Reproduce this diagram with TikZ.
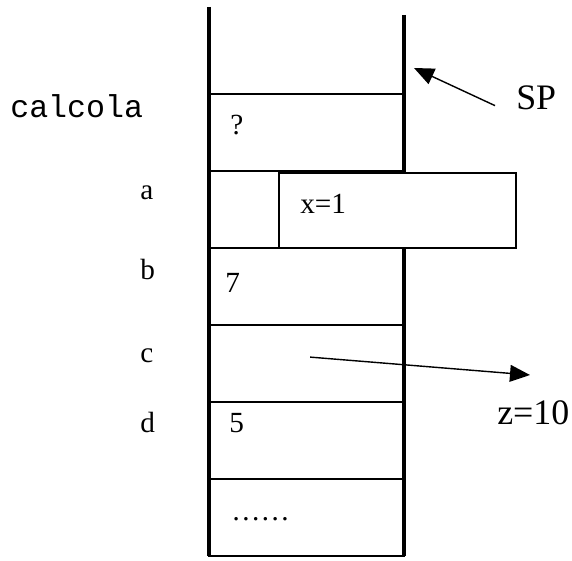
\documentclass[tikz,border=0pt]{standalone}
\usepackage{fontspec}
\setmainfont{Liberation Serif}
\setmonofont{Liberation Mono}
\usetikzlibrary{arrows.meta}

\tikzset{
  cell/.style={draw, line width=1pt, minimum width=4.875cm, minimum height=1.925cm, inner sep=0pt, outer sep=0pt},
  wall/.style={line width=3.5pt},
  lbl/.style={font=\fontsize{20.8}{24}\selectfont, anchor=base west, inner sep=0pt},
  big/.style={font=\fontsize{25.5}{30}\selectfont, anchor=base west, inner sep=0pt},
  ptr/.style={line width=1pt, -{Triangle[length=0.5cm, width=0.42cm]}},
}

\begin{document}
\begin{tikzpicture}
    \useasboundingbox (0,0) rectangle (14.3,14);

    % stack cells
    \foreach \name [count=\i] in {q,a,b,c,d,e}
        \node[cell] (cell\name) at (7.6625, 12.6125-1.925*\i) {};

    % stack walls
    \draw[wall] ([yshift=2.175cm]cellq.north west) -- (celle.south west);
    \draw[wall] ([yshift=1.975cm]cellq.north east) -- (celle.south east);

    % record of a
    \node[draw, fill=white, line width=1pt, minimum width=5.925cm, minimum height=1.875cm, inner sep=0pt] (xbox) at (9.9375, 8.7375) {};
    \node[lbl] (xval) at (7.5, 8.65) {x=1};

    % cell contents
    \node[lbl] (qval) at (5.75, 10.625) {?};
    \node[lbl] (bval) at (5.625, 6.675) {7};
    \node[lbl] (dval) at (5.725, 3.2) {5};
    \node[lbl] (eval) at (5.775, 1.0) {\dots\dots};

    % names
    \node[font=\ttfamily\fontsize{22.5}{26}\selectfont, anchor=base west, inner sep=0pt] (calc) at (0.25, 11.05) {calcola};
    \node[lbl] (na) at (3.5, 9.0) {a};
    \node[lbl] (nb) at (3.5, 7.0) {b};
    \node[lbl] (nc) at (3.5, 4.95) {c};
    \node[lbl] (nd) at (3.5, 3.2) {d};

    % stack pointer
    \node[big] (sp) at (12.9, 11.25) {SP};
    \coordinate (sptip) at (10.35, 12.3);
    \draw[ptr] ([shift={(-0.525,0.125)}]sp.south west) -- (sptip);

    % pointer of c
    \node[big] (zval) at (12.425, 3.4) {z=10};
    \coordinate (ztip) at (13.25, 4.625);
    \draw[ptr] ([shift={(0.09,0.16)}]cellc.center) -- (ztip);
\end{tikzpicture}
\end{document}
